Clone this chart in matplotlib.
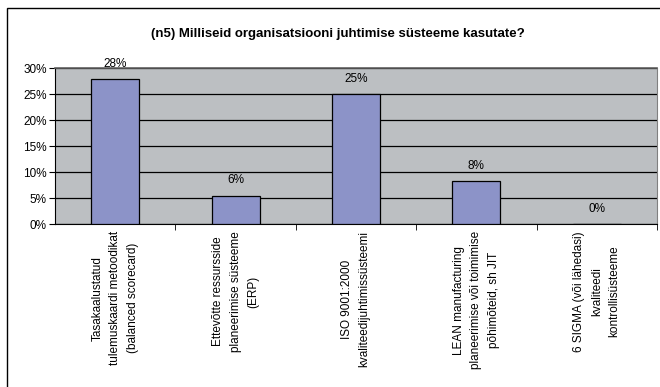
import matplotlib
matplotlib.use("Agg")
import matplotlib.pyplot as plt
from matplotlib.patches import Rectangle
from matplotlib.ticker import PercentFormatter

plt.rcParams['font.family'] = ['Liberation Sans', 'DejaVu Sans']

categories = [
    "Tasakaalustatud\ntulemuskaardi metoodikat\n(balanced scorecard)",
    "Ettevõtte ressursside\nplaneerimise süsteeme\n(ERP)",
    "ISO 9001:2000\nkvaliteedijuhtimissüsteemi",
    "LEAN manufacturing\nplaneerimise või toimimise\npõhimõteid, sh JIT",
    "6 SIGMA (või lähedasi)\nkvaliteedi\nkontrollisüsteeme",
]
values = [27.9, 5.5, 25.0, 8.3, 0.0]
value_labels = ["28%", "6%", "25%", "8%", "0%"]
yticks = [0, 5, 10, 15, 20, 25, 30]
title = "(n5) Milliseid organisatsiooni juhtimise süsteeme kasutate?"

W, H = 660, 387
fig = plt.figure(figsize=(W / 100, H / 100), dpi=100)
fig.patch.set_facecolor('white')
# outer chart frame (right/bottom edges fall outside the picture)
fig.patches.append(Rectangle((7 / W, -20 / H), 680 / W, (H - 7.5 + 20) / H,
                             transform=fig.transFigure, fill=False,
                             edgecolor='black', linewidth=1.0))

ax = fig.add_axes([55 / W, 1 - 224.3 / H, 602 / W, 156 / H])
ax.set_facecolor('#BCBFC2')
x = list(range(len(categories)))
ax.bar(x, values, width=0.40, color='#8C93C8', edgecolor='black', linewidth=0.9, zorder=3)
ax.set_xlim(-0.5, len(categories) - 0.5)
ax.set_ylim(0, 30)
ax.set_yticks(yticks)
ax.yaxis.set_major_formatter(PercentFormatter(decimals=0))
ax.grid(axis='y', color='black', linewidth=0.9, zorder=1)
ax.set_axisbelow(True)
ax.spines['top'].set_color('#606060')
ax.spines['top'].set_linewidth(1.2)
ax.spines['right'].set_color('#808080')
ax.spines['left'].set_color('black')
ax.spines['bottom'].set_color('black')
ax.tick_params(axis='y', labelsize=8.5, length=4, pad=2)
ax.set_xticks([i + 0.5 for i in x], minor=True)
ax.set_xticks(x)
ax.set_xticklabels(categories, rotation=90, fontsize=8.5, va='top', ha='center',
                   multialignment='center', linespacing=1.6)
ax.tick_params(axis='x', which='major', length=0, pad=5)
ax.tick_params(axis='x', which='minor', length=4)

for xi, v, lab in zip(x, values, value_labels):
    ax.text(xi, v + 2.95, lab, ha='center', va='center', fontsize=8.5)

fig.text(338 / W, 1 - 34 / H, title, ha='center', va='center',
         fontsize=9.5, fontweight='bold')

fig.savefig('out.png', dpi=100, facecolor='white')
